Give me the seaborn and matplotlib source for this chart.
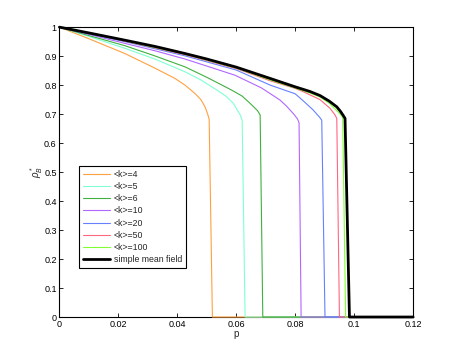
import numpy as np
import pandas as pd
import matplotlib
matplotlib.use("Agg")
import matplotlib.pyplot as plt
import seaborn as sns

# ---- data ----
labels = ["<k>=4", "<k>=5", "<k>=6", "<k>=10", "<k>=20", "<k>=50", "<k>=100", "simple mean field"]
colors = ["#FFA040", "#80FFD0", "#40B040", "#B266FF", "#6680FF", "#FF6680", "#80FF33", "#000000"]

p_k4 = [0, 0.01, 0.0222, 0.0325, 0.0392, 0.0426, 0.046, 0.048, 0.0494, 0.0503, 0.0508, 0.0519, 0.12]
r_k4 = [1, 0.960, 0.909, 0.858, 0.823, 0.800, 0.771, 0.750, 0.725, 0.700, 0.682, 0, 0]

p_k5 = [0, 0.01, 0.0222, 0.0326, 0.0426, 0.048, 0.0534, 0.0565, 0.059, 0.0612, 0.062, 0.063, 0.12]
r_k5 = [1, 0.968, 0.927, 0.889, 0.846, 0.818, 0.783, 0.762, 0.737, 0.700, 0.679, 0, 0]

p_k6 = [0, 0.01, 0.0222, 0.0326, 0.0426, 0.05, 0.0584, 0.062, 0.0647, 0.0672, 0.0681, 0.069, 0.12]
r_k6 = [1, 0.971, 0.936, 0.900, 0.863, 0.827, 0.783, 0.762, 0.737, 0.712, 0.697, 0, 0]

p_k10 = [0, 0.01, 0.0222, 0.0326, 0.0426, 0.0596, 0.0686, 0.0749, 0.0771, 0.0795, 0.0808, 0.0813, 0.082, 0.12]
r_k10 = [1, 0.975, 0.944, 0.918, 0.890, 0.834, 0.790, 0.748, 0.727, 0.700, 0.683, 0.670, 0, 0]

p_k20 = [0, 0.01, 0.0222, 0.0426, 0.06, 0.0715, 0.08, 0.0828, 0.086, 0.0882, 0.089, 0.0901, 0.12]
r_k20 = [1, 0.977, 0.950, 0.901, 0.852, 0.800, 0.770, 0.745, 0.715, 0.690, 0.679, 0, 0]

p_k50 = [0, 0.01, 0.0222, 0.0426, 0.06, 0.0715, 0.0799, 0.0828, 0.0884, 0.0918, 0.0935, 0.0941, 0.095, 0.12]
r_k50 = [1, 0.979, 0.952, 0.905, 0.857, 0.815, 0.789, 0.777, 0.750, 0.720, 0.697, 0.685, 0, 0]

p_k100 = [0, 0.01, 0.0222, 0.0426, 0.06, 0.0715, 0.08, 0.085, 0.0884, 0.0915, 0.0941, 0.0955, 0.0961, 0.0971, 0.12]
r_k100 = [1, 0.980, 0.953, 0.907, 0.859, 0.818, 0.790, 0.773, 0.759, 0.738, 0.712, 0.697, 0.688, 0, 0]

p_mf = [0, 0.01, 0.0222, 0.0326, 0.0426, 0.05, 0.06, 0.0715, 0.08, 0.085, 0.0884, 0.0915, 0.0941, 0.0953, 0.0963, 0.0969, 0.0984, 0.12]
r_mf = [1, 0.980, 0.955, 0.933, 0.909, 0.890, 0.862, 0.823, 0.794, 0.778, 0.764, 0.745, 0.725, 0.710, 0.695, 0.685, 0, 0]

series_p = [p_k4, p_k5, p_k6, p_k10, p_k20, p_k50, p_k100, p_mf]
series_r = [r_k4, r_k5, r_k6, r_k10, r_k20, r_k50, r_k100, r_mf]
widths = [0.8] * 7 + [2.0]

x_ticks = [0, 0.02, 0.04, 0.06, 0.08, 0.1, 0.12]
x_ticklabels = ["0", "0.02", "0.04", "0.06", "0.08", "0.1", "0.12"]
y_ticks = [0, 0.1, 0.2, 0.3, 0.4, 0.5, 0.6, 0.7, 0.8, 0.9, 1]
y_ticklabels = ["0", "0.1", "0.2", "0.3", "0.4", "0.5", "0.6", "0.7", "0.8", "0.9", "1"]

# ---- plot ----
sns.set_theme(style="white")
plt.rcParams["font.family"] = ["Liberation Sans", "DejaVu Sans"]
plt.rcParams["mathtext.fontset"] = "custom"
plt.rcParams["mathtext.rm"] = "Liberation Sans"
plt.rcParams["mathtext.it"] = "Liberation Sans:italic"

fig = plt.figure(figsize=(4.57, 3.57), dpi=100)
ax = fig.add_axes([0.130, 0.112, 0.774, 0.812])

for pv, rv, lab, col, lw in zip(series_p, series_r, labels, colors, widths):
    df = pd.DataFrame({"p": pv, "rho": rv})
    sns.lineplot(data=df, x="p", y="rho", color=col, linewidth=lw, label=lab,
                 sort=False, estimator=None, ax=ax, clip_on=False, zorder=3)

ax.set_xlim(0, 0.12)
ax.set_ylim(0, 1)
ax.set_xticks(x_ticks)
ax.set_xticklabels(x_ticklabels)
ax.set_yticks(y_ticks)
ax.set_yticklabels(y_ticklabels)
ax.tick_params(direction="in", length=3, width=0.6, labelsize=6.5, colors="black",
               top=True, right=True, bottom=True, left=True, pad=2)
for s in ax.spines.values():
    s.set_color("black")
    s.set_linewidth(0.8)
    s.set_zorder(2)

ax.set_xlabel("p", fontsize=7, labelpad=0)
ax.set_ylabel(r"$\rho^*_B$", fontsize=7, labelpad=-1)

leg = ax.legend(loc="lower left", bbox_to_anchor=(0.0566, 0.168), fontsize=6.3,
                frameon=True, fancybox=False, edgecolor="black", framealpha=1,
                handlelength=3.1, handletextpad=0.4, labelspacing=0.37,
                borderpad=0.45, borderaxespad=0)
leg.get_frame().set_linewidth(0.8)

fig.savefig("out.png", dpi=100)
